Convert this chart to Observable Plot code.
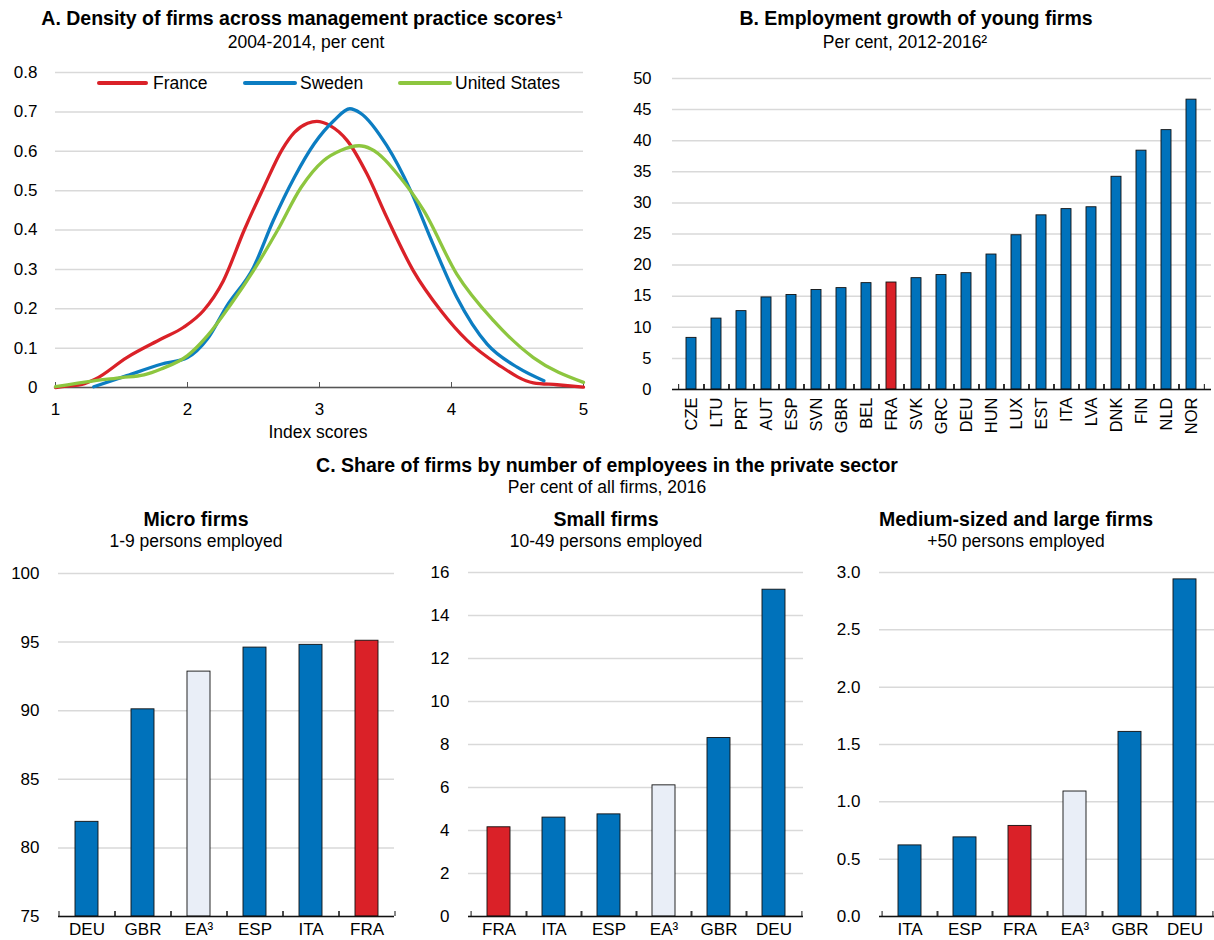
<!DOCTYPE html>
<html>
<head>
<meta charset="utf-8">
<script src="https://cdn.jsdelivr.net/npm/d3@7"></script>
<script src="https://cdn.jsdelivr.net/npm/@observablehq/plot@0.6"></script>
<style>
  html, body { margin: 0; padding: 0; background: #fff; }
  body { width: 1214px; height: 940px; position: relative; overflow: hidden;
         font-family: "Liberation Sans", Arial, sans-serif; color: #000; }
  .abs { position: absolute; }
  .t { position: absolute; text-align: center; white-space: nowrap; line-height: 20px; }
  .bold { font-weight: bold; font-size: 19.5px; }
  .sub { font-size: 17.5px; }
  .leg { position: absolute; height: 4px; }
  .legt { position: absolute; font-size: 17.5px; line-height: 20px; white-space: nowrap; }
</style>
</head>
<body>
<div id="root"></div>
<script>
// ---------- Data ----------
// Panel A: density curves (x = index score, y = density)
const franceX = [1.0, 1.1, 1.2, 1.3, 1.54, 1.8, 1.97, 2.12, 2.27, 2.43, 2.58, 2.72, 2.81, 2.91, 2.98, 3.08, 3.21, 3.36, 3.51, 3.71, 3.92, 4.12, 4.35, 4.62, 4.8, 5.0];
const franceY = [0.0, 0.004, 0.008, 0.021, 0.076, 0.123, 0.153, 0.195, 0.27, 0.40, 0.51, 0.606, 0.648, 0.671, 0.676, 0.665, 0.627, 0.542, 0.432, 0.297, 0.195, 0.119, 0.059, 0.012, 0.007, 0.001];
const swedenX = [1.29, 1.54, 1.8, 2.0, 2.15, 2.30, 2.50, 2.65, 2.81, 2.96, 3.11, 3.23, 3.31, 3.51, 3.69, 3.86, 4.04, 4.27, 4.50, 4.70];
const swedenY = [0.002, 0.03, 0.059, 0.076, 0.123, 0.208, 0.305, 0.424, 0.534, 0.619, 0.678, 0.708, 0.697, 0.614, 0.50, 0.364, 0.229, 0.110, 0.051, 0.017];
const usX = [1.0, 1.29, 1.5, 1.67, 1.80, 2.0, 2.15, 2.33, 2.50, 2.68, 2.86, 3.03, 3.16, 3.30, 3.39, 3.61, 3.79, 4.04, 4.32, 4.62, 5.0];
const usY = [0.002, 0.017, 0.025, 0.032, 0.047, 0.081, 0.131, 0.212, 0.297, 0.398, 0.508, 0.576, 0.602, 0.614, 0.606, 0.534, 0.449, 0.288, 0.169, 0.076, 0.013];
const seriesA = ["France", "Sweden", "United States"];
const xTicksA = [1, 2, 3, 4, 5];
const yTicksA = [0, 0.1, 0.2, 0.3, 0.4, 0.5, 0.6, 0.7, 0.8];

// Panel B: employment growth of young firms
const countriesB = ["CZE","LTU","PRT","AUT","ESP","SVN","GBR","BEL","FRA","SVK","GRC","DEU","HUN","LUX","EST","ITA","LVA","DNK","FIN","NLD","NOR"];
const valuesB = [8.3, 11.4, 12.6, 14.8, 15.2, 16.0, 16.3, 17.1, 17.2, 17.9, 18.4, 18.7, 21.7, 24.8, 28.0, 29.0, 29.3, 34.2, 38.4, 41.7, 46.6];
const yTicksB = [0, 5, 10, 15, 20, 25, 30, 35, 40, 45, 50];

// Panel C: share of firms by size class
const microCountries = ["DEU","GBR","EA³","ESP","ITA","FRA"];
const microValues = [81.9, 90.1, 92.85, 94.6, 94.8, 95.1];
const microTicks = [75, 80, 85, 90, 95, 100];
const smallCountries = ["FRA","ITA","ESP","EA³","GBR","DEU"];
const smallValues = [4.15, 4.6, 4.75, 6.1, 8.3, 15.2];
const smallTicks = [0, 2, 4, 6, 8, 10, 12, 14, 16];
const largeCountries = ["ITA","ESP","FRA","EA³","GBR","DEU"];
const largeValues = [0.62, 0.69, 0.79, 1.09, 1.61, 2.94];
const largeTicks = [0, 0.5, 1.0, 1.5, 2.0, 2.5, 3.0];

// ---------- Styles ----------
const BLUE = "#0072BB", RED = "#DA2128", LIGHT = "#E9EEF7", GREEN = "#8DC63F", LBLUE = "#0C7DC2";
const GRID = "#d9d9d9";
const FONT = '"Liberation Sans", Arial, sans-serif';
const lineColors = {"France": RED, "Sweden": LBLUE, "United States": GREEN};
function barColor(c) { return c === "FRA" ? RED : (c === "EA³" ? LIGHT : BLUE); }

const root = document.getElementById("root");
function place(el, left, top) {
  const d = document.createElement("div");
  d.className = "abs"; d.style.left = left + "px"; d.style.top = top + "px";
  d.appendChild(el); root.appendChild(d);
}
function text(str, cls, cx, cy, w = 700) {
  const d = document.createElement("div");
  d.className = "t " + cls;
  d.style.left = (cx - w / 2) + "px"; d.style.top = (cy - 10) + "px"; d.style.width = w + "px";
  d.textContent = str; root.appendChild(d);
}

// ---------- Titles ----------
text("A. Density of firms across management practice scores¹", "bold", 302, 18);
text("2004-2014, per cent", "sub", 306, 42);
text("B. Employment growth of young firms", "bold", 916, 18);
text("Per cent, 2012-2016²", "sub", 905, 42);
text("C. Share of firms by number of employees in the private sector", "bold", 607, 465);
text("Per cent of all firms, 2016", "sub", 607, 487);
text("Micro firms", "bold", 196, 519, 380);
text("1-9 persons employed", "sub", 196, 541, 380);
text("Small firms", "bold", 606, 519, 380);
text("10-49 persons employed", "sub", 606, 541, 380);
text("Medium-sized and large firms", "bold", 1016, 519, 380);
text("+50 persons employed", "sub", 1016, 541, 380);
text("Index scores", "sub", 318, 432, 200);

// ---------- Panel A ----------
const dataA = [
  ...franceX.map((x, i) => ({series: "France", x, y: franceY[i]})),
  ...swedenX.map((x, i) => ({series: "Sweden", x, y: swedenY[i]})),
  ...usX.map((x, i) => ({series: "United States", x, y: usY[i]}))
];
const chartA = Plot.plot({
  width: 600, height: 360,
  marginTop: 17, marginBottom: 28, marginLeft: 55, marginRight: 17,
  style: {fontFamily: FONT, fontSize: "17px", color: "#000", background: "transparent", overflow: "visible"},
  x: {domain: [1, 5]},
  y: {domain: [0, 0.8]},
  marks: [
    Plot.gridY(yTicksA, {stroke: GRID, strokeOpacity: 1, strokeWidth: 1.5}),
    Plot.axisY(yTicksA, {tickSize: 0, tickPadding: 18, tickFormat: d => d === 0 ? "0" : d3.format(".1f")(d), label: null}),
    Plot.ruleY([0], {stroke: "#555", strokeWidth: 1.5}),
    Plot.axisX(xTicksA, {tickSize: 5, dy: -5, text: null, stroke: "#555", label: null}),
    Plot.axisX(xTicksA, {tickSize: 0, tickPadding: 15, tickFormat: d3.format("d"), label: null}),
    Plot.line(dataA, {x: "x", y: "y", z: "series", stroke: d => lineColors[d.series], strokeWidth: 3.3, curve: "monotone-x"})
  ]
});
place(chartA, 0, 55);

// legend A
const legItems = [[97, 148, 153], [243, 297, 300], [398, 452, 455]];
seriesA.forEach((s, i) => {
  const [x0, x1, tx] = legItems[i];
  const l = document.createElement("div");
  l.className = "leg"; l.style.left = x0 + "px"; l.style.top = "81px"; l.style.width = (x1 - x0) + "px";
  l.style.background = lineColors[s]; l.style.borderRadius = "2px";
  root.appendChild(l);
  const t = document.createElement("div");
  t.className = "legt"; t.style.left = tx + "px"; t.style.top = "73px"; t.textContent = s;
  root.appendChild(t);
});

// ---------- Bar chart helper ----------
function barChart({cats, vals, ticks, yDomain, width, height, ml, mr, mt, mb, fmt, rotate, yPad, fontX, fontY}) {
  const data = cats.map((c, i) => ({c, v: vals[i]}));
  const step = (width - ml - mr) / cats.length;
  const xAxisLabels = rotate
    ? Plot.axisX(cats, {tickSize: 0, tickPadding: 8, tickRotate: -90, label: null, fontSize: fontX})
    : Plot.axisX(cats, {tickSize: 0, tickPadding: 6, label: null, fontSize: fontX});
  return Plot.plot({
    width, height, marginTop: mt, marginBottom: mb, marginLeft: ml, marginRight: mr,
    style: {fontFamily: FONT, fontSize: fontY + "px", color: "#000", background: "transparent", overflow: "visible"},
    x: {domain: cats, paddingInner: 0.59, paddingOuter: 0.295},
    y: {domain: yDomain},
    marks: [
      Plot.gridY(ticks, {stroke: GRID, strokeOpacity: 1, strokeWidth: 1.5}),
      Plot.axisY(ticks, {tickSize: 0, tickPadding: yPad, tickFormat: fmt, label: null}),
      Plot.barY(data, {x: "c", y1: yDomain[0], y2: "v", fill: d => barColor(d.c), stroke: "#111", strokeWidth: 0.9}),
      Plot.ruleY([yDomain[0]], {stroke: "#111", strokeWidth: 1.5}),
      Plot.axisX(cats, {tickSize: 5, dy: -5, dx: step / 2, text: null, stroke: "#111", label: null}),
      Plot.axisX(cats, {tickSize: 5, dy: -5, dx: -step / 2, text: null, stroke: "#111", label: null}),
      xAxisLabels
    ]
  });
}

// ---------- Panel B ----------
place(barChart({cats: countriesB, vals: valuesB, ticks: yTicksB, yDomain: [0, 50],
  width: 614, height: 380, ml: 72, mr: 3, mt: 23, mb: 46, fmt: d3.format("d"), rotate: true, yPad: 21, fontX: 16.5, fontY: 16.5}), 600, 55);

// ---------- Panel C ----------
place(barChart({cats: microCountries, vals: microValues, ticks: microTicks, yDomain: [75, 100],
  width: 410, height: 380, ml: 58, mr: 16, mt: 13, mb: 24, fmt: d3.format("d"), rotate: false, yPad: 19, fontX: 17, fontY: 17}), 0, 560);
place(barChart({cats: smallCountries, vals: smallValues, ticks: smallTicks, yDomain: [0, 16],
  width: 410, height: 380, ml: 58, mr: 17, mt: 12, mb: 24, fmt: d3.format("d"), rotate: false, yPad: 19, fontX: 17, fontY: 17}), 410, 560);
place(barChart({cats: largeCountries, vals: largeValues, ticks: largeTicks, yDomain: [0, 3],
  width: 394, height: 380, ml: 59, mr: 0, mt: 12, mb: 24, fmt: d3.format(".1f"), rotate: false, yPad: 19, fontX: 17, fontY: 17}), 820, 560);
</script>
</body>
</html>
